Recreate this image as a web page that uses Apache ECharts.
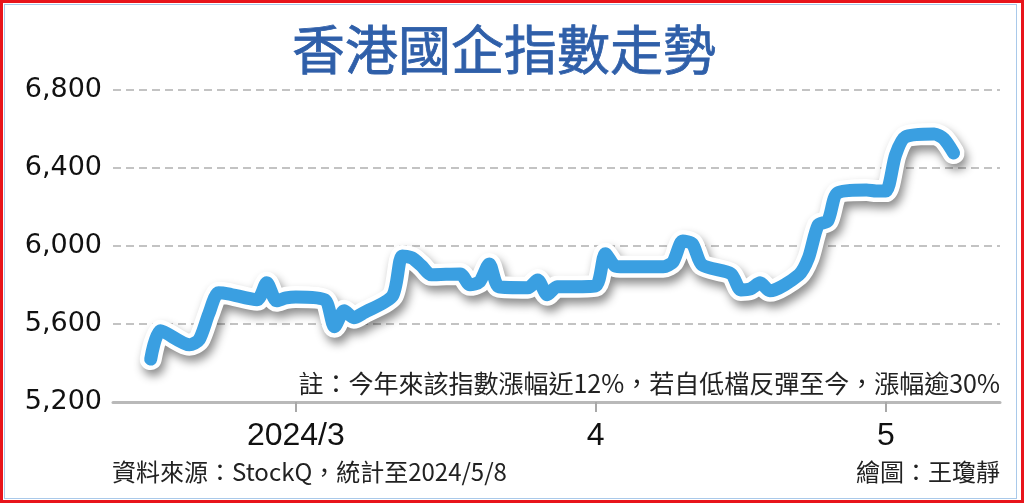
<!DOCTYPE html>
<html>
<head>
<meta charset="utf-8">
<script src="https://cdn.jsdelivr.net/npm/echarts@6/dist/echarts.min.js"></script>
<style>
  html, body { margin: 0; padding: 0; background: #fff; }
  #wrap { position: relative; width: 1024px; height: 503px; overflow: hidden; background: #fff; }
  #chart { position: absolute; left: 0; top: 0; width: 1024px; height: 503px; }
  #red { position: absolute; left: 0; top: 0; width: 1018px; height: 497px; border: 3px solid #e8141b; pointer-events: none; }
  #blue { position: absolute; left: 4px; top: 4px; width: 1011px; height: 493px; border: 1px solid #a9c9ea; pointer-events: none; }
</style>
</head>
<body>
<div id="wrap">
  <div id="chart"></div>
  <div id="blue"></div>
  <div id="red"></div>
</div>
<script>
// ---- data ----
const titleText = '香港國企指數走勢';
const noteText = '註：今年來該指數漲幅近12%，若自低檔反彈至今，漲幅逾30%';
const sourceText = '資料來源：StockQ，統計至2024/5/8';
const creditText = '繪圖：王瓊靜';

const dates = [
  '2024-02-15','2024-02-16','2024-02-19','2024-02-20','2024-02-21','2024-02-22','2024-02-23',
  '2024-02-26','2024-02-27','2024-02-28','2024-02-29','2024-03-01',
  '2024-03-04','2024-03-05','2024-03-06','2024-03-07','2024-03-08',
  '2024-03-11','2024-03-12','2024-03-13','2024-03-14','2024-03-15',
  '2024-03-18','2024-03-19','2024-03-20','2024-03-21','2024-03-22',
  '2024-03-25','2024-03-26','2024-03-27','2024-03-28','2024-03-29',
  '2024-04-01','2024-04-02','2024-04-03','2024-04-04','2024-04-05',
  '2024-04-08','2024-04-09','2024-04-10','2024-04-11','2024-04-12',
  '2024-04-15','2024-04-16','2024-04-17','2024-04-18','2024-04-19',
  '2024-04-22','2024-04-23','2024-04-24','2024-04-25','2024-04-26',
  '2024-04-29','2024-04-30','2024-05-01','2024-05-02','2024-05-03',
  '2024-05-06','2024-05-07','2024-05-08'
];
const values = [
  5420, 5565, 5493, 5519, 5652, 5760, 5755,
  5724, 5811, 5719, 5734, 5739,
  5724, 5586, 5668, 5632, 5657,
  5744, 5949, 5939, 5898, 5852,
  5857, 5801, 5816, 5908, 5791,
  5786, 5826, 5750, 5791, 5791,
  5796, 5960, 5898, 5893, 5893,
  5893, 5919, 6026, 6011, 5903,
  5857, 5775, 5780, 5811, 5770,
  5852, 5939, 6108, 6129, 6272,
  6287, 6282, 6282, 6467, 6559,
  6574, 6549, 6477
];
const xTickDates = ['2024-03-01', '2024-04-01', '2024-05-01'];
const xTickLabels = ['2024/3', '4', '5'];
const yMin = 5200, yMax = 6800, yStep = 400;
// axis extent, in days from 2024-03-01
const xMin = -18.9, xMax = 72.8;

const DAY = 86400000;
const base = Date.parse('2024-03-01');
const dayOf = d => (Date.parse(d) - base) / DAY;
const seriesData = dates.map((d, i) => [dayOf(d), values[i]]);
const tickDays = xTickDates.map(dayOf);

const chart = echarts.init(document.getElementById('chart'), null, { renderer: 'canvas' });
chart.setOption({
  animation: false,
  backgroundColor: '#ffffff',
  grid: { left: 113, right: 24, top: 90, bottom: 101, containLabel: false },
  xAxis: {
    type: 'value', min: xMin, max: xMax,
    axisLine: { show: true, lineStyle: { color: '#b9b9b9', width: 3 } },
    axisTick: { show: true, customValues: tickDays, length: 10, lineStyle: { color: '#a8a8a8', width: 2 } },
    axisLabel: {
      show: true, customValues: tickDays, margin: 18,
      formatter: v => { const i = tickDays.indexOf(v); return i >= 0 ? xTickLabels[i] : ''; },
      fontFamily: "'Liberation Sans', Arial, sans-serif", fontSize: 32, color: '#111'
    },
    splitLine: { show: false }
  },
  yAxis: {
    type: 'value', min: yMin, max: yMax, interval: yStep,
    axisLine: { show: false }, axisTick: { show: false },
    axisLabel: {
      margin: 11, formatter: v => v.toLocaleString('en-US'),
      fontFamily: "'DejaVu Sans', sans-serif", fontSize: 27, color: '#111'
    },
    splitLine: { show: true, lineStyle: { color: '#b0b0b0', width: 1.5, type: [8, 5] } }
  },
  series: [
    {
      type: 'line', data: seriesData, showSymbol: false, smooth: 0.25, z: 2,
      lineStyle: { color: '#ffffff', width: 22, cap: 'round', join: 'round',
        shadowColor: 'rgba(0,0,0,0.45)', shadowBlur: 10, shadowOffsetX: 3, shadowOffsetY: 6 }
    },
    {
      type: 'line', data: seriesData, showSymbol: false, smooth: 0.25, z: 3,
      lineStyle: { color: '#3a9fe1', width: 13, cap: 'round', join: 'round' }
    }
  ],
  graphic: [
    { type: 'text', x: 504, y: 50, style: { text: titleText, align: 'center', verticalAlign: 'middle',
        font: "normal 53px 'Noto Sans CJK TC', sans-serif", fill: '#2f5fa9',
        stroke: '#2f5fa9', lineWidth: 0.8 } },
    { type: 'text', x: 1000, y: 383, z: 10, style: { text: noteText, align: 'right', verticalAlign: 'middle',
        font: "25px 'Noto Sans CJK TC', sans-serif", fill: '#222' } },
    { type: 'text', x: 112, y: 472, style: { text: sourceText, align: 'left', verticalAlign: 'middle',
        font: "24px 'Noto Sans CJK TC', sans-serif", fill: '#222' } },
    { type: 'text', x: 1000, y: 472, style: { text: creditText, align: 'right', verticalAlign: 'middle',
        font: "24px 'Noto Sans CJK TC', sans-serif", fill: '#222' } }
  ]
});
</script>
</body>
</html>
